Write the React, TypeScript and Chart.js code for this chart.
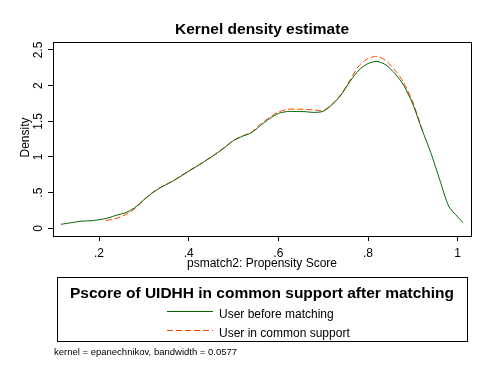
import React, { useEffect, useRef } from "react";
import { Chart, registerables } from "chart.js";

Chart.register(...registerables);

const titleText = "Kernel density estimate";
const xTitle = "psmatch2: Propensity Score";
const yTitle = "Density";
const legendTitle = "Pscore of UIDHH in common support after matching";
const seriesNames = ["User before matching", "User in common support"];
const noteText = "kernel = epanechnikov, bandwidth = 0.0577";

const xTicks = [0.2, 0.4, 0.6, 0.8, 1];
const xTickLabels = [".2", ".4", ".6", ".8", "1"];
const yTicks = [0, 0.5, 1, 1.5, 2, 2.5];
const yTickLabels = ["0", ".5", "1", "1.5", "2", "2.5"];

const beforeX = [0.115, 0.14, 0.16, 0.18, 0.2, 0.22, 0.24, 0.26, 0.28, 0.3, 0.32, 0.34, 0.36, 0.38, 0.4, 0.42, 0.44, 0.46, 0.48, 0.5, 0.52, 0.54, 0.56, 0.58, 0.6, 0.62, 0.64, 0.66, 0.68, 0.7, 0.72, 0.74, 0.76, 0.78, 0.8, 0.82, 0.84, 0.86, 0.88, 0.9, 0.92, 0.94, 0.96, 0.98, 1.0, 1.012];
const beforeY = [0.056, 0.08, 0.1, 0.105, 0.12, 0.145, 0.185, 0.22, 0.29, 0.4, 0.5, 0.58, 0.645, 0.72, 0.8, 0.875, 0.955, 1.04, 1.13, 1.23, 1.29, 1.34, 1.44, 1.535, 1.61, 1.637, 1.637, 1.635, 1.625, 1.64, 1.735, 1.87, 2.06, 2.22, 2.31, 2.34, 2.29, 2.17, 2.0, 1.74, 1.39, 1.06, 0.68, 0.31, 0.16, 0.08];

const commonX = [0.215, 0.23, 0.25, 0.27, 0.29, 0.3, 0.32, 0.34, 0.36, 0.38, 0.4, 0.42, 0.44, 0.46, 0.48, 0.5, 0.52, 0.54, 0.56, 0.58, 0.6, 0.62, 0.64, 0.66, 0.68, 0.7, 0.72, 0.74, 0.76, 0.78, 0.8, 0.82, 0.84, 0.86, 0.88, 0.9, 0.92, 0.925];
const commonY = [0.11, 0.125, 0.165, 0.23, 0.33, 0.4, 0.505, 0.585, 0.65, 0.725, 0.805, 0.88, 0.96, 1.045, 1.135, 1.235, 1.295, 1.35, 1.46, 1.555, 1.63, 1.668, 1.67, 1.668, 1.66, 1.65, 1.74, 1.88, 2.08, 2.28, 2.38, 2.41, 2.35, 2.22, 2.04, 1.77, 1.4, 1.33];

const GREEN = "#006400";
const ORANGE = "#FF4500";
const FONT = "'Liberation Sans', Arial, sans-serif";

const decorPlugin = {
  id: "decor",
  afterDraw(chart: any) {
    const ctx = chart.ctx;
    const area = chart.chartArea;
    const xs = chart.scales.x;
    const ys = chart.scales.y;
    ctx.save();
    ctx.fillStyle = "#000";
    ctx.strokeStyle = "#000";
    ctx.lineWidth = 1;
    // frame
    ctx.strokeRect(area.left + 0.5, area.top + 0.5, area.right - area.left, area.bottom - area.top);
    // title
    ctx.font = `bold 15.5px ${FONT}`;
    ctx.textAlign = "center";
    ctx.textBaseline = "alphabetic";
    ctx.fillText(titleText, (area.left + area.right) / 2, 34);
    // x tick labels
    ctx.font = `12px ${FONT}`;
    xTicks.forEach((v, i) => {
      ctx.fillText(xTickLabels[i], xs.getPixelForValue(v), 256.5);
    });
    // x title
    ctx.fillText(xTitle, (area.left + area.right) / 2, 266.5);
    // y tick labels (rotated)
    yTicks.forEach((v, i) => {
      const py = ys.getPixelForValue(v);
      ctx.save();
      ctx.translate(42, py);
      ctx.rotate(-Math.PI / 2);
      ctx.textAlign = "center";
      ctx.fillText(yTickLabels[i], 0, 0);
      ctx.restore();
    });
    // y title
    ctx.save();
    ctx.translate(28.5, (area.top + area.bottom) / 2 - 1.5);
    ctx.rotate(-Math.PI / 2);
    ctx.textAlign = "center";
    ctx.fillText(yTitle, 0, 0);
    ctx.restore();
    // legend box
    ctx.strokeRect(57.5, 277.5, 410, 64);
    ctx.font = `bold 15.5px ${FONT}`;
    ctx.textAlign = "center";
    ctx.fillText(legendTitle, 262, 297.5);
    ctx.font = `12px ${FONT}`;
    ctx.textAlign = "left";
    ctx.fillText(seriesNames[0], 219, 318);
    ctx.fillText(seriesNames[1], 219, 336.5);
    ctx.strokeStyle = GREEN;
    ctx.beginPath();
    ctx.moveTo(167, 311.5);
    ctx.lineTo(213, 311.5);
    ctx.stroke();
    ctx.strokeStyle = ORANGE;
    ctx.setLineDash([6, 3]);
    ctx.beginPath();
    ctx.moveTo(167, 330.5);
    ctx.lineTo(213, 330.5);
    ctx.stroke();
    ctx.setLineDash([]);
    // note
    ctx.fillStyle = "#000";
    ctx.font = `9.5px ${FONT}`;
    ctx.fillText(noteText, 54, 354.5);
    ctx.restore();
  },
};

export default function App() {
  const canvasRef = useRef<HTMLCanvasElement | null>(null);
  useEffect(() => {
    const canvas = canvasRef.current;
    if (!canvas) return;
    const chart = new Chart(canvas, {
      type: "line",
      data: {
        datasets: [
          {
            label: seriesNames[0],
            data: beforeX.map((x, i) => ({ x, y: beforeY[i] })),
            borderColor: GREEN,
            borderWidth: 1,
            pointRadius: 0,
            tension: 0.25,
            fill: false,
          },
          {
            label: seriesNames[1],
            data: commonX.map((x, i) => ({ x, y: commonY[i] })),
            borderColor: ORANGE,
            borderWidth: 1,
            borderDash: [6, 3],
            pointRadius: 0,
            tension: 0.25,
            fill: false,
          },
        ],
      },
      options: {
        animation: false,
        responsive: false,
        events: [],
        layout: { padding: { left: 0, top: 42, right: 19, bottom: 0 } },
        plugins: {
          legend: { display: false },
          title: { display: false },
          tooltip: { enabled: false },
        },
        scales: {
          x: {
            type: "linear",
            min: 0.0974,
            max: 1.0297,
            afterBuildTicks: (s: any) => {
              s.ticks = xTicks.map((v) => ({ value: v }));
            },
            afterFit: (s: any) => {
              s.height = 144;
            },
            ticks: { display: false },
            grid: { display: true, drawOnChartArea: false, drawTicks: true, tickLength: 5, color: "#000", lineWidth: 1 },
            border: { display: false },
          },
          y: {
            type: "linear",
            min: -0.108,
            max: 2.612,
            afterBuildTicks: (s: any) => {
              s.ticks = yTicks.map((v) => ({ value: v }));
            },
            afterFit: (s: any) => {
              s.width = 53;
            },
            ticks: { display: false },
            grid: { display: true, drawOnChartArea: false, drawTicks: true, tickLength: 5, color: "#000", lineWidth: 1 },
            border: { display: false },
          },
        },
      },
      plugins: [decorPlugin],
    });
    return () => chart.destroy();
  }, []);
  return (
    <div style={{ position: "absolute", left: 0, top: 0, width: 490, height: 380, background: "#fff" }}>
      <canvas ref={canvasRef} width={490} height={380} style={{ width: 490, height: 380, display: "block" }} />
    </div>
  );
}
